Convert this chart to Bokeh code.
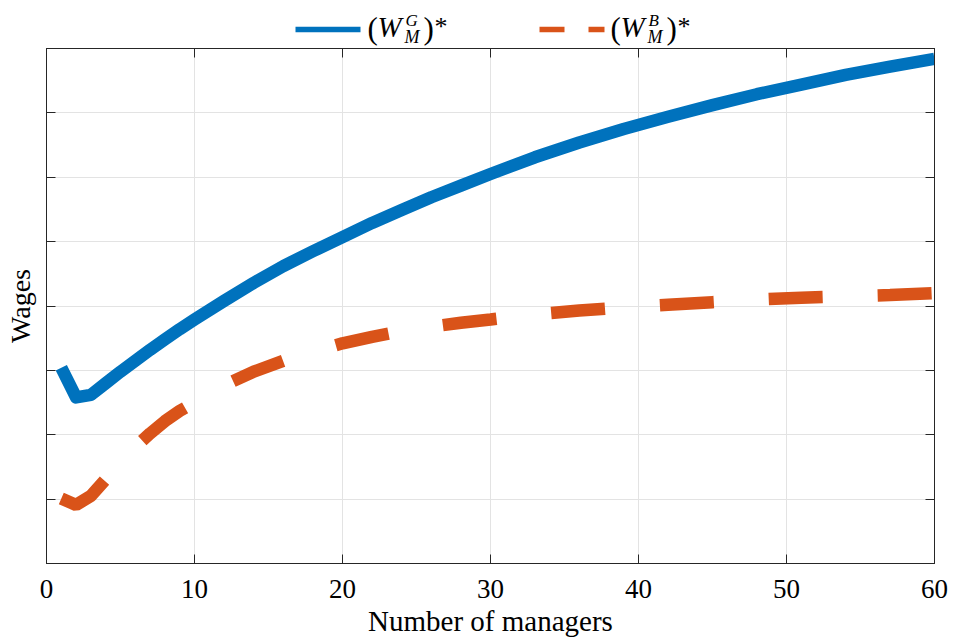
from bokeh.plotting import figure
from bokeh.models import Range1d, FixedTicker, LinearAxis
from bokeh.layouts import column
from bokeh.core.properties import value
from bokeh.embed import file_html
from bokeh.resources import INLINE

# Number of managers and the equilibrium wages of the two manager types
managers = [1, 2, 3, 4, 5, 6, 7, 8, 9, 10, 12, 14, 16, 18, 20, 22, 24, 26, 28, 30,
            33, 36, 39, 42, 45, 48, 51, 54, 57, 60]
wage_good = [3.04, 2.58, 2.62, 2.80, 2.98, 3.15, 3.32, 3.48, 3.64, 3.79, 4.08, 4.36, 4.62, 4.85, 5.07,
             5.29, 5.49, 5.69, 5.87, 6.05, 6.31, 6.54, 6.75, 6.94, 7.12, 7.29, 7.44, 7.59, 7.72, 7.84]
wage_bad = [1.01, 0.91, 1.05, 1.31, 1.57, 1.81, 2.02, 2.21, 2.37, 2.50, 2.77, 2.98, 3.15, 3.29, 3.42,
            3.52, 3.61, 3.68, 3.74, 3.79, 3.87, 3.93, 3.98, 4.02, 4.06, 4.10, 4.13, 4.15, 4.17, 4.20]

x_ticks = [0, 10, 20, 30, 40, 50, 60]
y_ticks = [0, 1, 2, 3, 4, 5, 6, 7, 8]

BLUE = "#0072BD"
ORANGE = "#D95319"
AXIS = "#262626"
GRID = "#e3e3e3"
SERIF = "Liberation Serif"

W = 953
LEFT, RIGHT = 46, 19
LEG_H = 48
MAIN_H = 593

# ---- main axes -------------------------------------------------------------
p = figure(width=W, height=MAIN_H,
           x_range=Range1d(0, 60), y_range=Range1d(0, 8),
           output_backend="svg", toolbar_location=None,
           min_border_left=LEFT, min_border_right=RIGHT,
           min_border_top=0, min_border_bottom=78,
           background_fill_color="white", border_fill_color="white")
p.outline_line_color = AXIS

p.xaxis.ticker = FixedTicker(ticks=x_ticks)
p.yaxis.ticker = FixedTicker(ticks=y_ticks)

for ax in (p.xaxis[0], p.yaxis[0]):
    ax.axis_line_color = AXIS
    ax.major_tick_line_color = AXIS
    ax.major_tick_in = 9
    ax.major_tick_out = 0
    ax.minor_tick_line_color = None

p.xaxis.major_label_text_font = SERIF
p.xaxis.major_label_text_font_size = "27px"
p.xaxis.major_label_text_color = "black"
p.xaxis.major_label_standoff = 16
p.xaxis.axis_label = "Number of managers"
p.xaxis.axis_label_text_font = SERIF
p.xaxis.axis_label_text_font_size = "29px"
p.xaxis.axis_label_text_font_style = "normal"
p.xaxis.axis_label_text_color = "black"
p.xaxis.axis_label_standoff = 4

# the vertical axis carries no numbers, only its name
p.yaxis.major_label_overrides = {float(t): "" for t in y_ticks}
p.yaxis.major_label_standoff = 0
p.yaxis.axis_label = "Wages"
p.yaxis.axis_label_text_font = SERIF
p.yaxis.axis_label_text_font_size = "28px"
p.yaxis.axis_label_text_font_style = "normal"
p.yaxis.axis_label_text_color = "black"
p.yaxis.axis_label_standoff = 11

# mirrored tick marks on the right and top edges of the box
right_axis = LinearAxis(ticker=FixedTicker(ticks=y_ticks),
                        major_label_overrides={float(t): "" for t in y_ticks})
top_axis = LinearAxis(ticker=FixedTicker(ticks=x_ticks),
                      major_label_overrides={float(t): "" for t in x_ticks})
for ax in (right_axis, top_axis):
    ax.major_label_standoff = 0
    ax.major_tick_in = 9
    ax.major_tick_out = 0
    ax.minor_tick_line_color = None
    ax.axis_line_color = AXIS
    ax.major_tick_line_color = AXIS
p.add_layout(right_axis, "right")
p.add_layout(top_axis, "above")

p.xgrid.ticker = FixedTicker(ticks=x_ticks)
p.ygrid.ticker = FixedTicker(ticks=y_ticks)
p.grid.grid_line_color = GRID
p.grid.grid_line_width = 1

p.line(managers, wage_good, line_color=BLUE, line_width=12.5, line_join="round")
p.line(managers, wage_bad, line_color=ORANGE, line_width=12.5, line_dash="54 55", line_cap="butt")

# ---- legend strip above the axes (coordinates are page pixels) ----------------
leg = figure(width=W, height=LEG_H,
             x_range=Range1d(LEFT, W - RIGHT), y_range=Range1d(LEG_H, 0),
             output_backend="svg", toolbar_location=None,
             min_border_left=LEFT, min_border_right=RIGHT,
             min_border_top=0, min_border_bottom=0,
             x_axis_type=None, y_axis_type=None, outline_line_color=None,
             background_fill_color="white", border_fill_color="white")
leg.grid.visible = False

entries = [("G", BLUE, "solid", 295, 367), ("B", ORANGE, "25 24", 539, 610)]
for sup, color, dash, x0, tx in entries:
    leg.line([x0, x0 + 65], [29, 29], line_color=color, line_width=5.5,
             line_dash=dash, line_cap="butt")
    # (text, left edge, baseline, font size in px, style)
    parts = [
        ("(", tx, 38, 31, "normal"),
        ("W", tx + 10, 36, 29, "italic"),
        (sup, tx + 38, 26, 17, "italic"),
        ("M", tx + 37, 43, 18, "italic"),
        (")", tx + 56, 38, 31, "normal"),
        ("*", tx + 67, 35, 26, "normal"),
    ]
    for txt, px, base, size, style in parts:
        # texts are anchored on their middle; shift from baseline to middle
        leg.text([px], [base - 0.337 * size], text=[txt], text_font=value(SERIF),
                 text_font_size=f"{size}px", text_font_style=style, text_color="black",
                 text_baseline="middle", text_align="left")

layout = column(leg, p, spacing=0)
open("out.html", "w").write(file_html(layout, INLINE))
